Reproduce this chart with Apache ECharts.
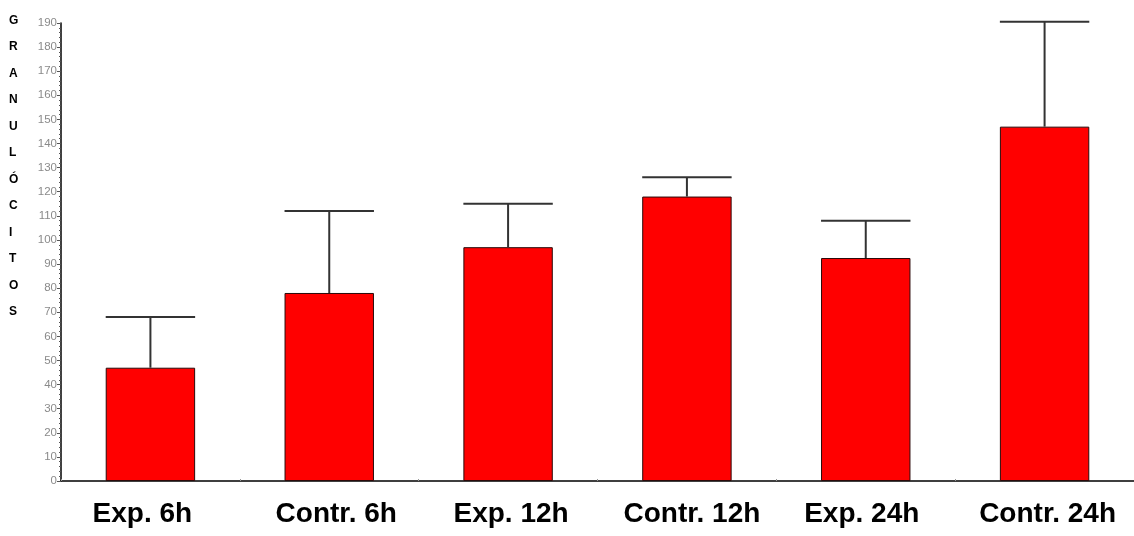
<!DOCTYPE html>
<html>
<head>
<meta charset="utf-8">
<script src="https://cdn.jsdelivr.net/npm/echarts@6/dist/echarts.min.js"></script>
<style>
  html, body { margin: 0; padding: 0; background: #fff; }
  #chart { width: 1134px; height: 536px; }
</style>
</head>
<body>
<div id="chart"></div>
<script>
// Granulocyte counts per group: mean and upper error limit
const categories = ['Exp. 6h', 'Contr. 6h', 'Exp. 12h', 'Contr. 12h', 'Exp. 24h', 'Contr. 24h'];
const means = [47, 78, 97, 118, 92.5, 147];
const upperLimits = [68, 112, 115, 126, 108, 190.5];
const yTitle = 'GRANULÓCITOS';

// horizontal nudge (px) of each category label relative to its bar
const labelShift = [-8, 7, 3, 5, -4, 3];

const chart = echarts.init(document.getElementById('chart'), null, { renderer: 'canvas' });

const axisData = categories.map((c, i) => {
  const s = labelShift[i];
  return {
    value: c,
    textStyle: { padding: s >= 0 ? [0, 0, 0, 2 * s] : [0, -2 * s, 0, 0] }
  };
});

chart.setOption({
  animation: false,
  backgroundColor: '#ffffff',
  grid: { left: 61, width: 1080, top: 23, height: 458, containLabel: false },
  xAxis: {
    type: 'category',
    data: axisData,
    axisLine: { lineStyle: { color: '#000', width: 1.5 } },
    axisTick: { show: true, alignWithLabel: false, inside: true, length: 2, lineStyle: { color: '#999' } },
    axisLabel: {
      margin: 19,
      fontFamily: 'Liberation Sans, Arial, sans-serif',
      fontWeight: 'bold',
      fontSize: 28,
      color: '#000'
    },
    splitLine: { show: false }
  },
  yAxis: {
    type: 'value',
    min: 0,
    max: 190,
    interval: 10,
    axisLine: { show: true, lineStyle: { color: '#000', width: 1.5 } },
    axisTick: { show: true, length: 4, lineStyle: { color: '#555' } },
    minorTick: { show: true, splitNumber: 5, length: 2, lineStyle: { color: '#555' } },
    axisLabel: {
      margin: 4,
      fontFamily: 'Liberation Sans, Arial, sans-serif',
      fontSize: 11.5,
      color: '#8a8a8a'
    },
    splitLine: { show: false }
  },
  graphic: [{
    type: 'text',
    left: 9,
    top: 7,
    style: {
      text: yTitle.split('').join('\n'),
      font: 'bold 12px "Liberation Sans", Arial, sans-serif',
      lineHeight: 26.5,
      fill: '#000',
      align: 'center'
    }
  }],
  series: [
    {
      type: 'bar',
      data: means,
      barWidth: '50%',
      itemStyle: { color: '#ff0000', borderColor: '#2a0a0a', borderWidth: 1 },
      z: 2
    },
    {
      type: 'custom',
      data: categories.map((c, i) => [i, means[i], upperLimits[i]]),
      clip: false,
      z: 3,
      renderItem: function (params, api) {
        const i = api.value(0);
        const base = api.coord([i, api.value(1)]);
        const top = api.coord([i, api.value(2)]);
        const half = api.size([1, 0])[0] * 0.25;
        const style = { stroke: '#333', lineWidth: 2 };
        return {
          type: 'group',
          children: [
            { type: 'line', shape: { x1: base[0], y1: base[1], x2: top[0], y2: top[1] }, style: style },
            { type: 'line', shape: { x1: top[0] - half, y1: top[1], x2: top[0] + half, y2: top[1] }, style: style }
          ]
        };
      }
    }
  ]
});
</script>
</body>
</html>
